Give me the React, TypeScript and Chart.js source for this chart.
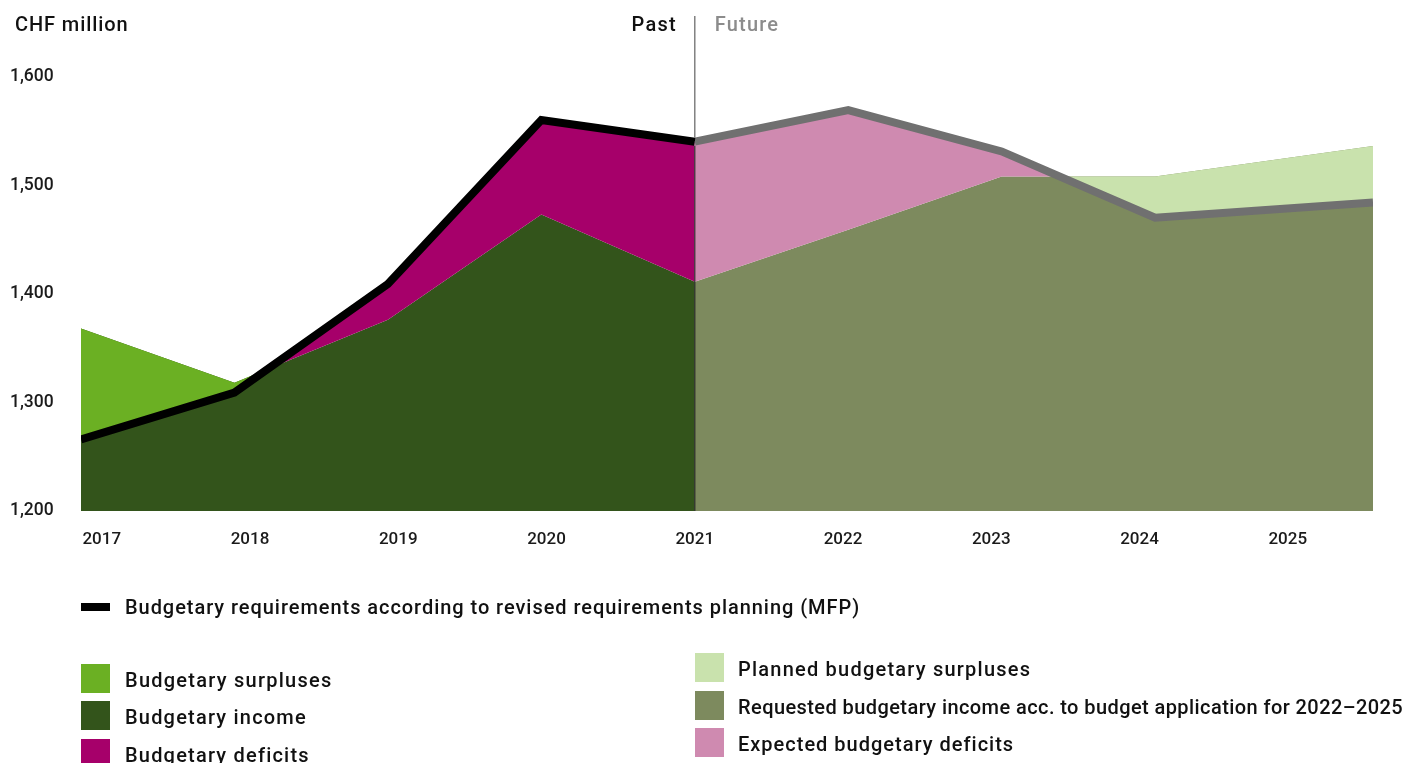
import React, { useEffect, useRef } from 'react';
import { Chart, registerables } from 'chart.js';

Chart.register(...registerables);

const FONT = 'Roboto, "Noto Sans", "DejaVu Sans", sans-serif';

// ---- data ----
const pastYears = [2017, 2018, 2019, 2020, 2021];
const futureYears = [2021, 2022, 2023, 2024, 2025.42];
const requirementsPast = [1266, 1309, 1409, 1560, 1540];
const incomePast = [1368, 1318, 1376, 1473, 1411];
const requirementsFuture = [1540, 1569, 1531, 1470, 1484];
const incomeFuture = [1411, 1459, 1508, 1508, 1536];
const yearLabels = [2017, 2018, 2019, 2020, 2021, 2022, 2023, 2024, 2025];
const yTicks = [1200, 1300, 1400, 1500, 1600];

const COLORS = {
  surplus: '#6bb023',
  income: '#33541b',
  deficit: '#a6006a',
  planned: '#c9e2ad',
  requested: '#7d8a5e',
  expected: '#cf8ab0',
  reqPast: '#000000',
  reqFuture: '#707070',
};

const lineLegend = 'Budgetary requirements according to revised requirements planning (MFP)';
const leftLegend = [
  { label: 'Budgetary surpluses', color: COLORS.surplus, spacing: 1.25 },
  { label: 'Budgetary income', color: COLORS.income, spacing: 1.2 },
  { label: 'Budgetary deficits', color: COLORS.deficit, spacing: 1.2 },
];
const rightLegend = [
  { label: 'Planned budgetary surpluses', color: COLORS.planned, spacing: 1.22 },
  { label: 'Requested budgetary income acc. to budget application for 2022\u20132025', color: COLORS.requested, spacing: 0.42 },
  { label: 'Expected budgetary deficits', color: COLORS.expected, spacing: 1.0 },
];

const pts = (xs: number[], ys: number[]) => xs.map((x, i) => ({ x, y: ys[i] }));

const separatorPlugin = {
  id: 'separator',
  afterDatasetsDraw(chart: any) {
    const { ctx, chartArea, scales } = chart;
    const x = scales.xd.getPixelForValue(2021);
    const yLine = scales.y.getPixelForValue(requirementsPast[4]);
    ctx.save();
    ctx.strokeStyle = '#808080';
    ctx.lineWidth = 1.5;
    ctx.beginPath();
    ctx.moveTo(x, 16);
    ctx.lineTo(x, yLine - 4);
    ctx.stroke();
    ctx.strokeStyle = 'rgba(20,20,20,0.85)';
    ctx.lineWidth = 1.2;
    ctx.beginPath();
    ctx.moveTo(x, yLine + 4);
    ctx.lineTo(x, chartArea.bottom);
    ctx.stroke();
    ctx.font = `500 20px ${FONT}`;
    try { (ctx as any).letterSpacing = '1.2px'; } catch (e) {}
    ctx.textBaseline = 'alphabetic';
    ctx.fillStyle = '#111111';
    ctx.textAlign = 'right';
    ctx.fillText('Past', x - 18, 31);
    ctx.fillStyle = '#8c8c8c';
    ctx.textAlign = 'left';
    ctx.fillText('Future', x + 20, 31);
    ctx.restore();
  },
};

export default function App() {
  const ref = useRef<HTMLCanvasElement | null>(null);

  useEffect(() => {
    document.body.style.margin = '0';
    const canvas = ref.current;
    if (!canvas) return;
    const common = { pointRadius: 0, tension: 0, xAxisID: 'xd', yAxisID: 'y' };
    const chart = new Chart(canvas, {
      type: 'line',
      data: {
        datasets: [
          {
            ...common,
            label: 'req-past',
            data: pts(pastYears, requirementsPast),
            borderColor: COLORS.reqPast,
            borderWidth: 8,
            fill: false,
          },
          {
            ...common,
            label: 'req-future',
            data: pts(futureYears, requirementsFuture),
            borderColor: COLORS.reqFuture,
            borderWidth: 8,
            fill: false,
          },
          {
            ...common,
            label: 'income-past-diff',
            data: pts(pastYears, incomePast),
            borderWidth: 0,
            borderColor: 'rgba(0,0,0,0)',
            fill: { target: 0, above: COLORS.surplus, below: COLORS.deficit },
          },
          {
            ...common,
            label: 'income-future-diff',
            data: pts(futureYears, incomeFuture),
            borderWidth: 0,
            borderColor: 'rgba(0,0,0,0)',
            fill: { target: 1, above: COLORS.planned, below: COLORS.expected },
          },
          {
            ...common,
            label: 'income-past',
            data: pts(pastYears, incomePast),
            borderWidth: 0,
            borderColor: 'rgba(0,0,0,0)',
            backgroundColor: COLORS.income,
            fill: 'origin',
          },
          {
            ...common,
            label: 'income-future',
            data: pts(futureYears, incomeFuture),
            borderWidth: 0,
            borderColor: 'rgba(0,0,0,0)',
            backgroundColor: COLORS.requested,
            fill: 'origin',
          },
        ],
      },
      options: {
        responsive: false,
        animation: false,
        events: [],
        layout: { padding: { left: 10, right: 48, top: 76.5, bottom: 212 } },
        plugins: {
          legend: { display: false },
          tooltip: { enabled: false },
          filler: { propagate: false },
        },
        scales: {
          x: {
            type: 'linear',
            min: 2016.86,
            max: 2025.575,
            grid: { display: false, drawTicks: false },
            border: { display: false },
            ticks: {
              padding: 19,
              maxRotation: 0,
              autoSkip: false,
              color: '#1a1a1a',
              font: { family: FONT, size: 17, weight: '500' },
              callback: (v: any) => String(v),
            },
            afterBuildTicks: (s: any) => {
              s.ticks = yearLabels.map((v) => ({ value: v }));
            },
            afterFit: (s: any) => {
              s.height = 40;
            },
          },
          xd: {
            type: 'linear',
            display: false,
            min: 2017,
            max: 2025.42,
          },
          y: {
            type: 'linear',
            min: 1200,
            max: 1600,
            grid: { display: false, drawTicks: false },
            border: { display: false },
            ticks: {
              stepSize: 100,
              crossAlign: 'far',
              padding: 0,
              color: '#1a1a1a',
              font: { family: FONT, size: 17.5, weight: '500' },
              callback: (v: any) => Number(v).toLocaleString('en-US'),
            },
            afterBuildTicks: (s: any) => {
              s.ticks = yTicks.map((v) => ({ value: v }));
            },
            afterFit: (s: any) => {
              s.width = 71;
            },
          },
        },
      } as any,
      plugins: [separatorPlugin],
    });
    return () => chart.destroy();
  }, []);

  const textStyle: React.CSSProperties = {
    position: 'absolute',
    fontFamily: FONT,
    fontSize: 20,
    fontWeight: 500,
    lineHeight: '24px',
    color: '#111111',
    whiteSpace: 'nowrap',
    letterSpacing: '1px',
  };

  const leftBoxTops = [664, 701, 739];
  const rightBoxTops = [653, 691, 728];

  return (
    <div style={{ position: 'absolute', left: 0, top: 0, width: 1421, height: 763, overflow: 'hidden', background: '#fff' }}>
      <canvas ref={ref} width={1421} height={763} style={{ position: 'absolute', left: 0, top: 0, width: 1421, height: 763 }} />
      <div style={{ ...textStyle, left: 15, top: 12, letterSpacing: '0.9px' }}>CHF million</div>
      <div style={{ position: 'absolute', left: 81, top: 603, width: 29, height: 8, background: '#000' }} />
      <div style={{ ...textStyle, left: 125, top: 595, letterSpacing: '0.95px' }}>{lineLegend}</div>
      {leftLegend.map((it, i) => (
        <React.Fragment key={it.label}>
          <div style={{ position: 'absolute', left: 81, top: leftBoxTops[i], width: 29, height: 29, background: it.color }} />
          <div style={{ ...textStyle, left: 125, top: leftBoxTops[i] + 16 - 12, letterSpacing: `${it.spacing}px` }}>{it.label}</div>
        </React.Fragment>
      ))}
      {rightLegend.map((it, i) => (
        <React.Fragment key={it.label}>
          <div style={{ position: 'absolute', left: 695, top: rightBoxTops[i], width: 29, height: 29, background: it.color }} />
          <div style={{ ...textStyle, left: 738, top: rightBoxTops[i] + 16 - 12, letterSpacing: `${it.spacing}px` }}>{it.label}</div>
        </React.Fragment>
      ))}
    </div>
  );
}
